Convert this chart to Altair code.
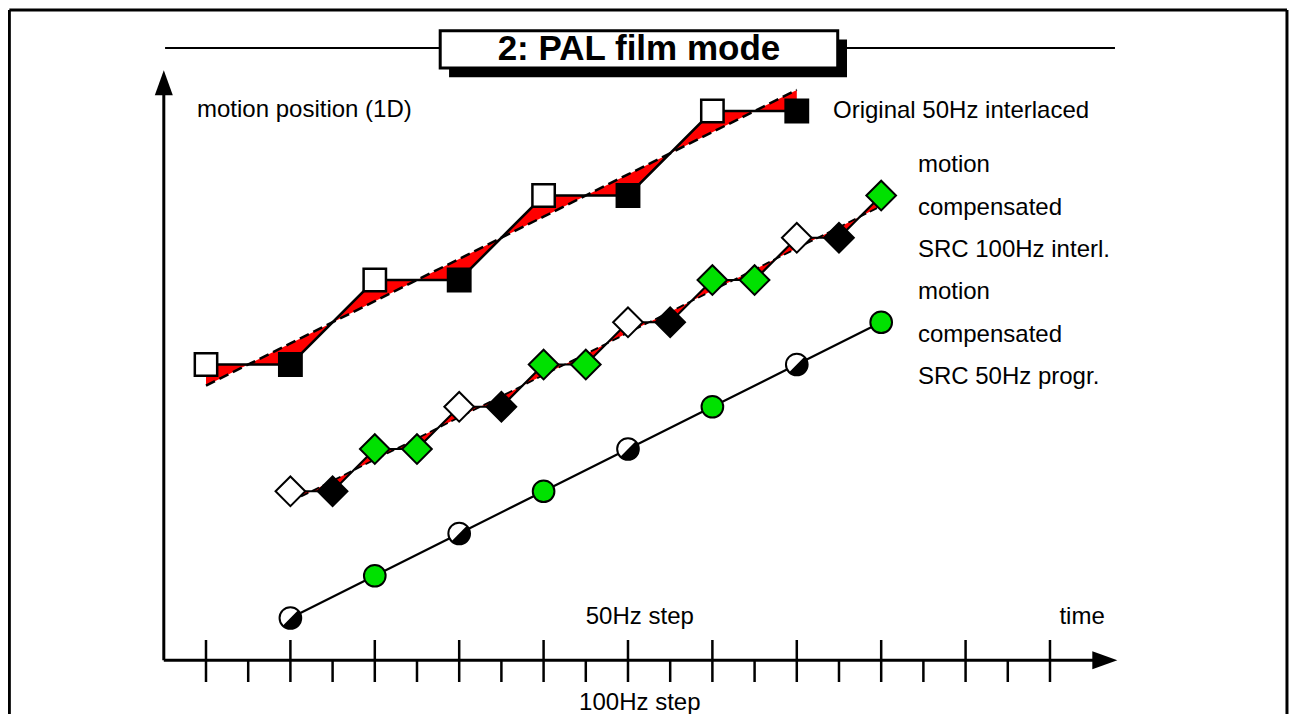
import altair as alt
import pandas as pd

# ---------------- data (time in 100Hz steps, position in line units) ----------------
# Original 50Hz interlaced (squares)
s1_k = [0, 2, 4, 6, 8, 10, 12, 14]
s1_pos = [6, 6, 8, 8, 10, 10, 12, 12]
s1_traj = [5.5, 6.5, 7.5, 8.5, 9.5, 10.5, 11.5, 12.5]
s1_fill = ["white", "black", "white", "black", "white", "black", "white", "black"]

# motion compensated SRC 100Hz interl. (diamonds)
s2_k = [2, 3, 4, 5, 6, 7, 8, 9, 10, 11, 12, 13, 14, 15, 16]
s2_pos = [3, 3, 4, 4, 5, 5, 6, 6, 7, 7, 8, 8, 9, 9, 10]
s2_traj = [2.75, 3.25, 3.75, 4.25, 4.75, 5.25, 5.75, 6.25, 6.75, 7.25, 7.75, 8.25, 8.75, 9.25, 9.75]
s2_fill = ["white", "black", "green", "green", "white", "black", "green", "green",
           "white", "black", "green", "green", "white", "black", "green"]

# motion compensated SRC 50Hz progr. (circles)
s3_k = [2, 4, 6, 8, 10, 12, 14, 16]
s3_pos = [0, 1, 2, 3, 4, 5, 6, 7]
s3_kind = ["half", "green", "half", "green", "half", "green", "half", "green"]

tick_k = list(range(0, 21))

title = "2: PAL film mode"
y_label = "motion position (1D)"
legend1 = "Original 50Hz interlaced"
legend2 = ["motion", "compensated", "SRC 100Hz interl."]
legend3 = ["motion", "compensated", "SRC 50Hz progr."]
lbl_50 = "50Hz step"
lbl_100 = "100Hz step"
lbl_time = "time"

GREEN = "#00E100"
RED = "#FF0000"
FONT = "Liberation Sans"
col = {"white": "white", "black": "black", "green": GREEN}

# ---------------- scales ----------------
W, H = 1281, 706
xs = alt.Scale(domain=[-4.692, 25.664], nice=False, zero=False)
ys = alt.Scale(domain=[-2.272, 14.438], nice=False, zero=False)


def X(f):
    return alt.X(f, type="quantitative", scale=xs, axis=None)


def Y(f):
    return alt.Y(f, type="quantitative", scale=ys, axis=None)


def segs(rows, **kw):
    df = pd.DataFrame(rows, columns=["x", "x2", "y", "y2"])
    return alt.Chart(df).mark_rule(color="black", **kw).encode(
        x=X("x"), x2="x2", y=Y("y"), y2="y2")


def text(rows, **kw):
    df = pd.DataFrame(rows, columns=["x", "y", "t"])
    return alt.Chart(df).mark_text(font=FONT, color="black", baseline="middle", **kw).encode(
        x=X("x"), y=Y("y"), text="t:N")


# ---------------- frame & title ----------------
frame = segs([(-4.66, 25.616, 14.39, 14.39),
              (-4.66, -4.66, 14.39, -2.6),
              (25.616, 25.616, 14.39, -2.6)], strokeWidth=3)

title_lines = segs([(-0.97, 5.55, 13.49, 13.49),
                    (14.97, 21.54, 13.49, 13.49)], strokeWidth=2)

box_df = pd.DataFrame({"x": [5.55], "x2": [14.97], "y": [13.90], "y2": [13.02]})
shadow_df = pd.DataFrame({"x": [5.76], "x2": [15.19], "y": [13.69], "y2": [12.80]})
shadow = alt.Chart(shadow_df).mark_rect(color="black").encode(
    x=X("x"), x2="x2", y=Y("y"), y2="y2")
box = alt.Chart(box_df).mark_rect(fill="white", stroke="black", strokeWidth=3).encode(
    x=X("x"), x2="x2", y=Y("y"), y2="y2")
title_txt = text([(10.26, 13.46, title)], fontSize=35, fontWeight="bold", align="center")

# ---------------- axes ----------------
axes = segs([(-1.0, -1.0, -1.0, 12.45),
             (-1.0, 21.05, -1.0, -1.0)], strokeWidth=3)
arrow_up = alt.Chart(pd.DataFrame({"x": [-1.0], "y": [12.67]})).mark_point(
    shape="M 0 -1 L 0.72 1 L -0.72 1 Z", size=625, filled=True, fill="black",
    stroke="black", strokeWidth=0, opacity=1).encode(x=X("x"), y=Y("y"))
arrow_right = alt.Chart(pd.DataFrame({"x": [21.3], "y": [-1.0]})).mark_point(
    shape="M 1 0 L -1 -0.72 L -1 0.72 Z", size=625, filled=True, fill="black",
    stroke="black", strokeWidth=0, opacity=1).encode(x=X("x"), y=Y("y"))

tick_rows = []
for k in tick_k:
    top = -0.52 if k % 2 == 0 else -1.0
    tick_rows.append((k, k, top, -1.515))
ticks = segs(tick_rows, strokeWidth=2.5)

# ---------------- series 1 ----------------
d1 = pd.DataFrame({"k": s1_k, "pos": s1_pos, "traj": s1_traj,
                   "fill": [col[c] for c in s1_fill]})
area1 = alt.Chart(d1).mark_area(color=RED, opacity=1).encode(
    x=X("k"), y=Y("pos"), y2="traj")
dash1 = alt.Chart(d1).mark_line(color="black", strokeWidth=2.5, strokeDash=[10, 5]).encode(
    x=X("k"), y=Y("traj"))
stair1 = alt.Chart(d1).mark_line(color="black", strokeWidth=2.5).encode(
    x=X("k"), y=Y("pos"))
pts1 = alt.Chart(d1).mark_point(shape="square", size=500, filled=True, stroke="black",
                                strokeWidth=2.5, opacity=1).encode(
    x=X("k"), y=Y("pos"), fill=alt.Fill("fill:N", scale=None))

# ---------------- series 2 ----------------
d2 = pd.DataFrame({"k": s2_k, "pos": s2_pos, "traj": s2_traj,
                   "fill": [col[c] for c in s2_fill]})
area2 = alt.Chart(d2).mark_area(color=RED, opacity=1).encode(
    x=X("k"), y=Y("pos"), y2="traj")
dash2 = alt.Chart(d2).mark_line(color="black", strokeWidth=1.8, strokeDash=[8, 4]).encode(
    x=X("k"), y=Y("traj"))
stair2 = alt.Chart(d2).mark_line(color="black", strokeWidth=2.2).encode(
    x=X("k"), y=Y("pos"))
pts2 = alt.Chart(d2).mark_point(shape="diamond", size=880, filled=True, stroke="black",
                                strokeWidth=2, opacity=1).encode(
    x=X("k"), y=Y("pos"), fill=alt.Fill("fill:N", scale=None))

# ---------------- series 3 ----------------
d3 = pd.DataFrame({"k": s3_k, "pos": s3_pos, "kind": s3_kind})
line3 = alt.Chart(d3).mark_line(color="black", strokeWidth=2.2).encode(
    x=X("k"), y=Y("pos"))
d3g = d3[d3["kind"] == "green"]
d3h = d3[d3["kind"] == "half"]
pts3g = alt.Chart(d3g).mark_point(shape="circle", size=470, filled=True, fill=GREEN,
                                  stroke="black", strokeWidth=2, opacity=1).encode(
    x=X("k"), y=Y("pos"))
pts3w = alt.Chart(d3h).mark_point(shape="circle", size=470, filled=True, fill="white",
                                  stroke="black", strokeWidth=2, opacity=1).encode(
    x=X("k"), y=Y("pos"))
pts3b = alt.Chart(d3h).mark_point(
    shape="M -0.7071 0.7071 L 0.7071 -0.7071 A 1 1 0 0 1 -0.7071 0.7071 Z",
    size=470, filled=True, fill="black", strokeWidth=0, opacity=1).encode(
    x=X("k"), y=Y("pos"))

# ---------------- labels ----------------
labels_left = text([(-0.213, 12.02, y_label),
                    (14.858, 12.0, legend1),
                    (16.87, 10.72, legend2[0]),
                    (16.87, 9.70, legend2[1]),
                    (16.87, 8.71, legend2[2]),
                    (16.87, 7.72, legend3[0]),
                    (16.87, 6.70, legend3[1]),
                    (16.87, 5.70, legend3[2])], fontSize=24, align="left")
labels_center = text([(10.28, 0.02, lbl_50),
                      (20.76, 0.02, lbl_time),
                      (10.28, -2.01, lbl_100)], fontSize=24, align="center")

chart = alt.layer(
    frame, title_lines, shadow, box, title_txt,
    axes, ticks, arrow_up, arrow_right,
    area1, area2, dash1, dash2, stair1, stair2, line3,
    pts1, pts2, pts3w, pts3b, pts3g,
    labels_left, labels_center,
).properties(
    width=W, height=H, padding=0, autosize=alt.AutoSizeParams(type="none"),
    background="white",
).configure_view(stroke=None)

chart.save("out.html", embed_options={"renderer": "svg", "actions": False})
